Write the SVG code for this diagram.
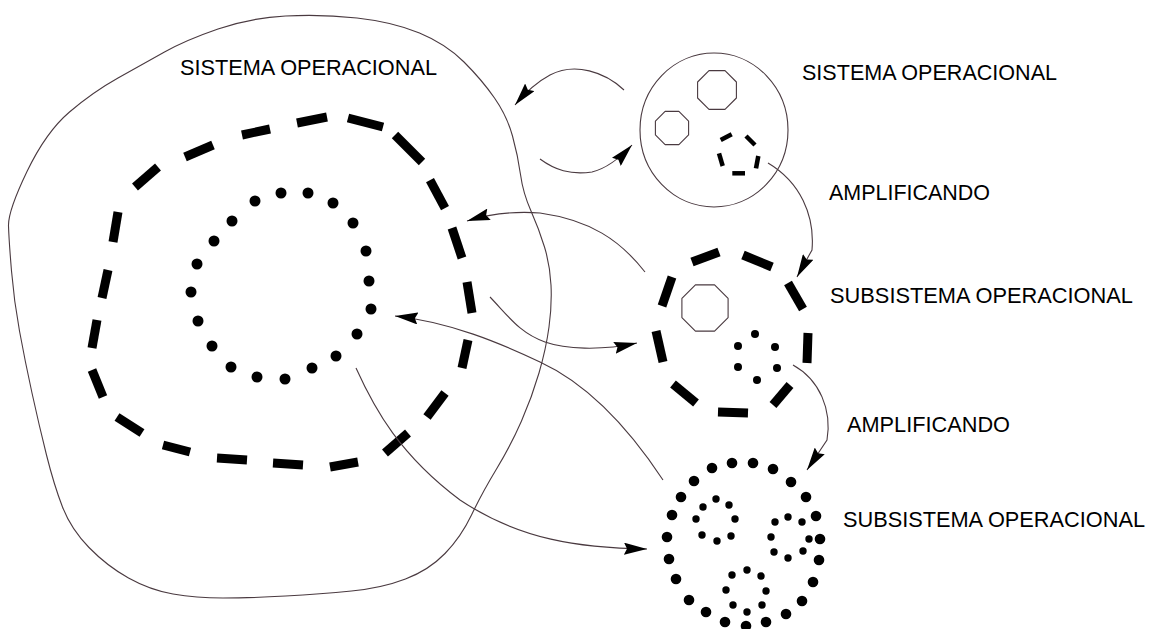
<svg xmlns="http://www.w3.org/2000/svg" width="1151" height="629" viewBox="0 0 1151 629">
  <style>
    .thin { fill: none; stroke: #4a3a40; stroke-width: 1.1; stroke-linejoin: round; stroke-linecap: round; }
    .dash { stroke: #000; stroke-width: 9; stroke-linecap: butt; }
    .dash-s { stroke: #000; stroke-width: 4.5; stroke-linecap: butt; }
    .dot-l { fill: #000; }
    .label { font-family: "Liberation Sans", Arial, sans-serif; font-size: 22px; fill: #000; }
    .conn { fill: none; stroke: #4a3a40; stroke-width: 1.1; marker-end: url(#head); }
  </style>
  <defs>
    <marker id="head" viewBox="0 0 23 12" refX="23" refY="6" markerWidth="23" markerHeight="12" markerUnits="userSpaceOnUse" orient="auto">
      <path d="M0,0 L23,6 L0,12 L3,6 Z" fill="#000"/>
    </marker>
  </defs>
  <rect width="1151" height="629" fill="#fff"/>

  <!-- large operational system -->
  <g id="sistema-operacional">
    <path class="thin" d="M27,171.5 Q46,132 69.5,112 Q93,92 118,78 Q143,64 164.5,52 Q186,40 218,29 Q250,18 285.5,16 Q321,14 357,18 Q393,22 419.5,33 Q446,44 464,62 Q482,80 494.5,98 Q507,116 512.5,136 Q518,156 520.5,174.5 Q523,193 531,211 Q539,229 544.5,247 Q550,265 551,285 Q552,305 549,327 Q546,349 539,373 Q532,397 521.5,421 Q511,445 496.5,469 Q482,493 471.5,515 Q461,537 445,553.5 Q429,570 405.5,579 Q382,588 351.5,591 Q321,594 285.5,596 Q250,598 223,598 Q196,598 173,594 Q150,590 128.5,578 Q107,566 89,547.5 Q71,529 62.5,507 Q54,485 46.5,455 Q39,425 32,393 Q25,361 19.5,331 Q14,301 11.5,271 Q9,241 8.5,226 Q8,211 27,171.5 Z"/>
    <text class="label" x="180" y="75" textLength="257" lengthAdjust="spacingAndGlyphs">SISTEMA OPERACIONAL</text>
  </g>

  <!-- dashed subsystem inside the large system -->
  <g id="subsistema-tracejado" class="dash">
    <line x1="135" y1="187" x2="158" y2="167"/>
    <line x1="185" y1="157" x2="213" y2="145"/>
    <line x1="242" y1="135" x2="270" y2="129"/>
    <line x1="297" y1="123" x2="327" y2="117"/>
    <line x1="348" y1="118" x2="383" y2="127"/>
    <line x1="395" y1="135" x2="422" y2="162"/>
    <line x1="430" y1="180" x2="445" y2="208"/>
    <line x1="452" y1="228" x2="462" y2="258"/>
    <line x1="467" y1="282" x2="472" y2="313"/>
    <line x1="468" y1="340" x2="462" y2="368"/>
    <line x1="445" y1="393" x2="427" y2="417"/>
    <line x1="408" y1="433" x2="385" y2="453"/>
    <line x1="358" y1="462" x2="330" y2="467"/>
    <line x1="303" y1="465" x2="273" y2="463"/>
    <line x1="247" y1="460" x2="217" y2="458"/>
    <line x1="190" y1="452" x2="163" y2="445"/>
    <line x1="142" y1="433" x2="117" y2="417"/>
    <line x1="103" y1="397" x2="92" y2="370"/>
    <line x1="92" y1="348" x2="97" y2="320"/>
    <line x1="102" y1="298" x2="108" y2="270"/>
    <line x1="113" y1="242" x2="118" y2="212"/>
  </g>

  <!-- dotted subsystem at the centre -->
  <g id="subsistema-pontilhado" class="dot-l">
    <circle cx="255" cy="201" r="5.5"/>
    <circle cx="281" cy="193" r="5.5"/>
    <circle cx="308" cy="193" r="5.5"/>
    <circle cx="333" cy="203" r="5.5"/>
    <circle cx="353" cy="223" r="5.5"/>
    <circle cx="366" cy="251" r="5.5"/>
    <circle cx="369" cy="281" r="5.5"/>
    <circle cx="371" cy="309" r="5.5"/>
    <circle cx="357" cy="334" r="5.5"/>
    <circle cx="336" cy="356" r="5.5"/>
    <circle cx="312" cy="368" r="5.5"/>
    <circle cx="285" cy="379" r="5.5"/>
    <circle cx="257" cy="377" r="5.5"/>
    <circle cx="231" cy="367" r="5.5"/>
    <circle cx="212" cy="346" r="5.5"/>
    <circle cx="198" cy="321" r="5.5"/>
    <circle cx="191" cy="292" r="5.5"/>
    <circle cx="197" cy="264" r="5.5"/>
    <circle cx="214" cy="241" r="5.5"/>
    <circle cx="232" cy="221" r="5.5"/>
  </g>

  <!-- small operational system, top right -->
  <g id="sistema-operacional-menor">
    <ellipse class="thin" cx="714" cy="130" rx="74" ry="77"/>
    <polygon class="thin" points="736.4,98 725,109.4 709,109.4 697.6,98 697.6,82 709,70.6 725,70.6 736.4,82"/>
    <polygon class="thin" points="688.6,134.9 678.9,144.6 665.1,144.6 655.4,134.9 655.4,121.1 665.1,111.4 678.9,111.4 688.6,121.1"/>
    <g class="dash-s">
      <line x1="720.7" y1="140" x2="731.7" y2="134.3"/>
      <line x1="746" y1="136" x2="755" y2="145"/>
      <line x1="758.3" y1="156" x2="756" y2="168.3"/>
      <line x1="745" y1="173.3" x2="732.3" y2="173.3"/>
      <line x1="722.7" y1="166" x2="719" y2="153.3"/>
    </g>
    <text class="label" x="802" y="80" textLength="255" lengthAdjust="spacingAndGlyphs">SISTEMA OPERACIONAL</text>
  </g>

  <!-- dashed subsystem, middle right -->
  <g id="subsistema-operacional-tracejado">
    <g class="dash">
      <line x1="692" y1="262" x2="719" y2="252"/>
      <line x1="743" y1="255" x2="772" y2="267"/>
      <line x1="788" y1="283" x2="803" y2="309"/>
      <line x1="808" y1="333" x2="807" y2="363"/>
      <line x1="790" y1="385" x2="773" y2="405"/>
      <line x1="748" y1="413" x2="718" y2="412"/>
      <line x1="696" y1="403" x2="673" y2="384"/>
      <line x1="663" y1="362" x2="656" y2="331"/>
      <line x1="662" y1="306" x2="672" y2="277"/>
    </g>
    <polygon class="thin" points="728.1,317.6 714.6,331.1 695.4,331.1 681.9,317.6 681.9,298.4 695.4,284.9 714.6,284.9 728.1,298.4"/>
    <g class="dot-l">
      <circle cx="755" cy="334" r="4"/>
      <circle cx="738" cy="346" r="4"/>
      <circle cx="775" cy="347" r="4"/>
      <circle cx="738" cy="367" r="4"/>
      <circle cx="777" cy="368" r="4"/>
      <circle cx="757" cy="380" r="4"/>
    </g>
    <text class="label" x="830" y="303" textLength="303" lengthAdjust="spacingAndGlyphs">SUBSISTEMA OPERACIONAL</text>
  </g>

  <!-- dotted subsystem, bottom right -->
  <g id="subsistema-operacional-pontilhado" class="dot-l">
    <circle cx="732" cy="463" r="5.3"/>
    <circle cx="753" cy="463" r="5.3"/>
    <circle cx="773" cy="469" r="5.3"/>
    <circle cx="791" cy="482" r="5.3"/>
    <circle cx="806" cy="497" r="5.3"/>
    <circle cx="816" cy="516" r="5.3"/>
    <circle cx="820" cy="539" r="5.3"/>
    <circle cx="819" cy="560" r="5.3"/>
    <circle cx="813" cy="582" r="5.3"/>
    <circle cx="802" cy="601" r="5.3"/>
    <circle cx="786" cy="614" r="5.3"/>
    <circle cx="766" cy="622" r="5.3"/>
    <circle cx="746" cy="626" r="5.3"/>
    <circle cx="725" cy="622" r="5.3"/>
    <circle cx="706" cy="612" r="5.3"/>
    <circle cx="689" cy="600" r="5.3"/>
    <circle cx="676" cy="579" r="5.3"/>
    <circle cx="669" cy="559" r="5.3"/>
    <circle cx="667" cy="537" r="5.3"/>
    <circle cx="672" cy="515" r="5.3"/>
    <circle cx="681" cy="497" r="5.3"/>
    <circle cx="694" cy="481" r="5.3"/>
    <circle cx="712" cy="468" r="5.3"/>
    <!-- inner rings -->
    <circle cx="716" cy="499" r="3.7"/>
    <circle cx="703" cy="507" r="3.7"/>
    <circle cx="729" cy="505" r="3.7"/>
    <circle cx="696" cy="519" r="3.7"/>
    <circle cx="735" cy="519" r="3.7"/>
    <circle cx="702" cy="535" r="3.7"/>
    <circle cx="717" cy="541" r="3.7"/>
    <circle cx="731" cy="536" r="3.7"/>
    <circle cx="788" cy="517" r="3.7"/>
    <circle cx="775" cy="522" r="3.7"/>
    <circle cx="802" cy="522" r="3.7"/>
    <circle cx="771" cy="537" r="3.7"/>
    <circle cx="809" cy="539" r="3.7"/>
    <circle cx="774" cy="552" r="3.7"/>
    <circle cx="788" cy="558" r="3.7"/>
    <circle cx="803" cy="551" r="3.7"/>
    <circle cx="747" cy="570" r="3.7"/>
    <circle cx="732" cy="575" r="3.7"/>
    <circle cx="761" cy="576" r="3.7"/>
    <circle cx="726" cy="590" r="3.7"/>
    <circle cx="766" cy="591" r="3.7"/>
    <circle cx="733" cy="605" r="3.7"/>
    <circle cx="747" cy="612" r="3.7"/>
    <circle cx="762" cy="605" r="3.7"/>
    <text class="label" x="843" y="527" textLength="302" lengthAdjust="spacingAndGlyphs">SUBSISTEMA OPERACIONAL</text>
  </g>

  <!-- connectors -->
  <g id="conectores">
    <path class="conn" d="M624,90 C605,72 575,62 550,75 C535,83 525,93 515,105"/>
    <path class="conn" d="M540,159 C555,170 570,175 592,172 C608,168 620,158 632,145"/>
    <path class="conn" d="M768,163 C800,182 815,215 812,250 L797,277"/>
    <path class="conn" d="M793,365 C820,380 832,410 827,440 L807,470"/>
    <path class="conn" d="M645,272 C620,240 590,220 540,213 C515,211 490,214 467,221"/>
    <path class="conn" d="M490,297 C510,318 520,333 545,342 C565,349 600,351 637,343"/>
    <path class="conn" d="M663,480 C630,430 590,385 540,362 C500,343 450,322 395,316"/>
    <path class="conn" d="M356,368 C375,410 400,455 460,500 C520,540 580,548 647,549"/>
    <text class="label" x="829" y="200" textLength="161" lengthAdjust="spacingAndGlyphs">AMPLIFICANDO</text>
    <text class="label" x="847" y="432" textLength="163" lengthAdjust="spacingAndGlyphs">AMPLIFICANDO</text>
  </g>
</svg>
